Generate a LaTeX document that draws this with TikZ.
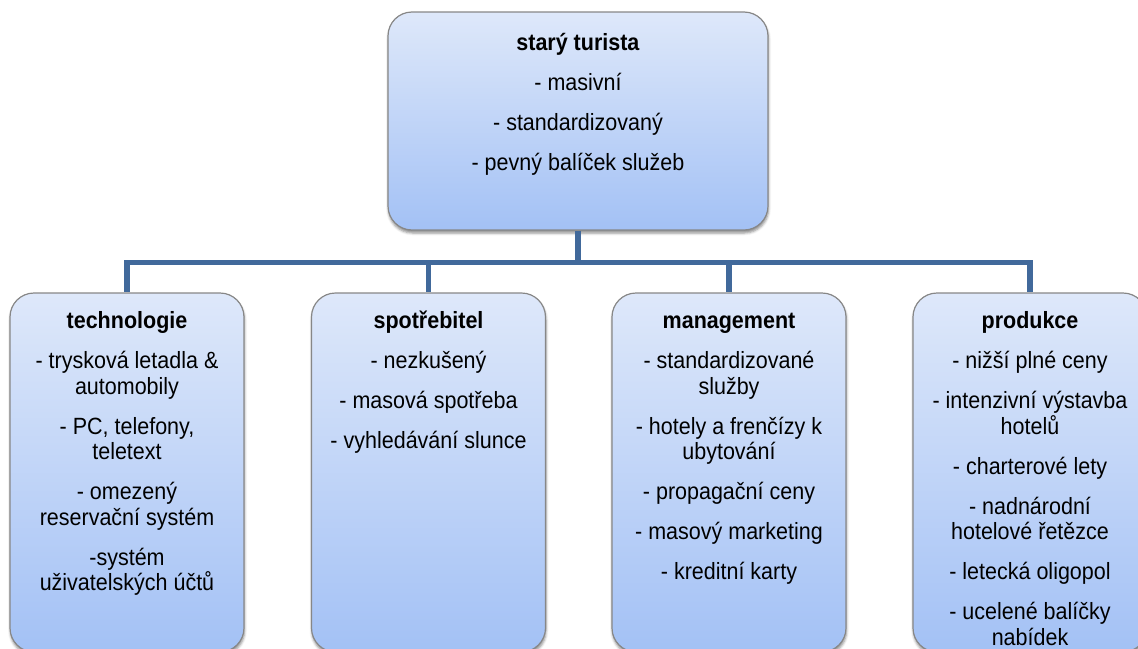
\documentclass[tikz,border=0pt]{standalone}
\usepackage{fontspec}
\setmainfont{Liberation Sans}[FakeStretch=0.915]
\usetikzlibrary{shadows.blur}
\definecolor{linkblue}{RGB}{65,105,155}
\definecolor{boxtop}{RGB}{222,232,250}
\definecolor{boxbot}{RGB}{163,193,245}
\definecolor{boxline}{RGB}{135,135,135}
\tikzset{
  box/.style={draw=boxline,line width=1.2pt,rounded corners=24pt,top color=boxtop,bottom color=boxbot,
    minimum width=234pt,minimum height=359pt,inner sep=0pt,
    blur shadow={shadow xshift=0.5pt,shadow yshift=-3pt,shadow blur radius=2.5pt,shadow opacity=45}},
  txt/.style={align=center,anchor=north,inner sep=0pt,font=\fontsize{23.5}{25.5}\selectfont},
  link/.style={draw=linkblue,line width=5.5pt},
}
\newcommand{\itemgap}{\\[14.5pt]}
\newcommand{\boxhead}[1]{\rule{0pt}{20pt}\textbf{#1}}

\begin{document}
\begin{tikzpicture}[x=1pt,y=1pt]
  \useasboundingbox (0,0) rectangle (1138,-648);
  \clip (0,0) rectangle (1138,-648);
  % boxes
  \node[box,minimum width=380pt,minimum height=218pt] (old) at (578,-121) {};
  \node[box] (tech) at (127,-472.5) {};
  \node[box] (cons) at (428.5,-472.5) {};
  \node[box] (mgmt) at (729,-472.5) {};
  \node[box] (prod) at (1030,-472.5) {};
  % texts
  \node[txt] (old-t) at ([yshift=-19pt]old.north)
    {\boxhead{starý turista}\itemgap- masivní\itemgap- standardizovaný\itemgap- pevný balíček služeb};
  \node[txt] (tech-t) at ([yshift=-16pt]tech.north)
    {\boxhead{technologie}\itemgap- trysková letadla \&\\automobily\itemgap- PC, telefony,\\teletext\itemgap
     - omezený\\reservační systém\itemgap-systém\\uživatelských účtů};
  \node[txt] (cons-t) at ([yshift=-16pt]cons.north)
    {\boxhead{spotřebitel}\itemgap- nezkušený\itemgap- masová spotřeba\itemgap- vyhledávání slunce};
  \node[txt] (mgmt-t) at ([yshift=-16pt]mgmt.north)
    {\boxhead{management}\itemgap- standardizované\\služby\itemgap- hotely a frenčízy k\\ubytování\itemgap
     - propagační ceny\itemgap- masový marketing\itemgap- kreditní karty};
  \node[txt] (prod-t) at ([yshift=-16pt]prod.north)
    {\boxhead{produkce}\itemgap- nižší plné ceny\itemgap- intenzivní výstavba\\hotelů\itemgap- charterové lety\itemgap
     - nadnárodní\\hotelové řetězce\itemgap- letecká oligopol\itemgap- ucelené balíčky\\nabídek};
  % connectors
  \coordinate (bus) at (578,-262.5);
  \draw[link] (old.south) -- (bus) -| (tech.north);
  \draw[link] (bus) -| (cons.north);
  \draw[link] (bus) -| (mgmt.north);
  \draw[link] (bus) -| (prod.north);
\end{tikzpicture}
\end{document}
